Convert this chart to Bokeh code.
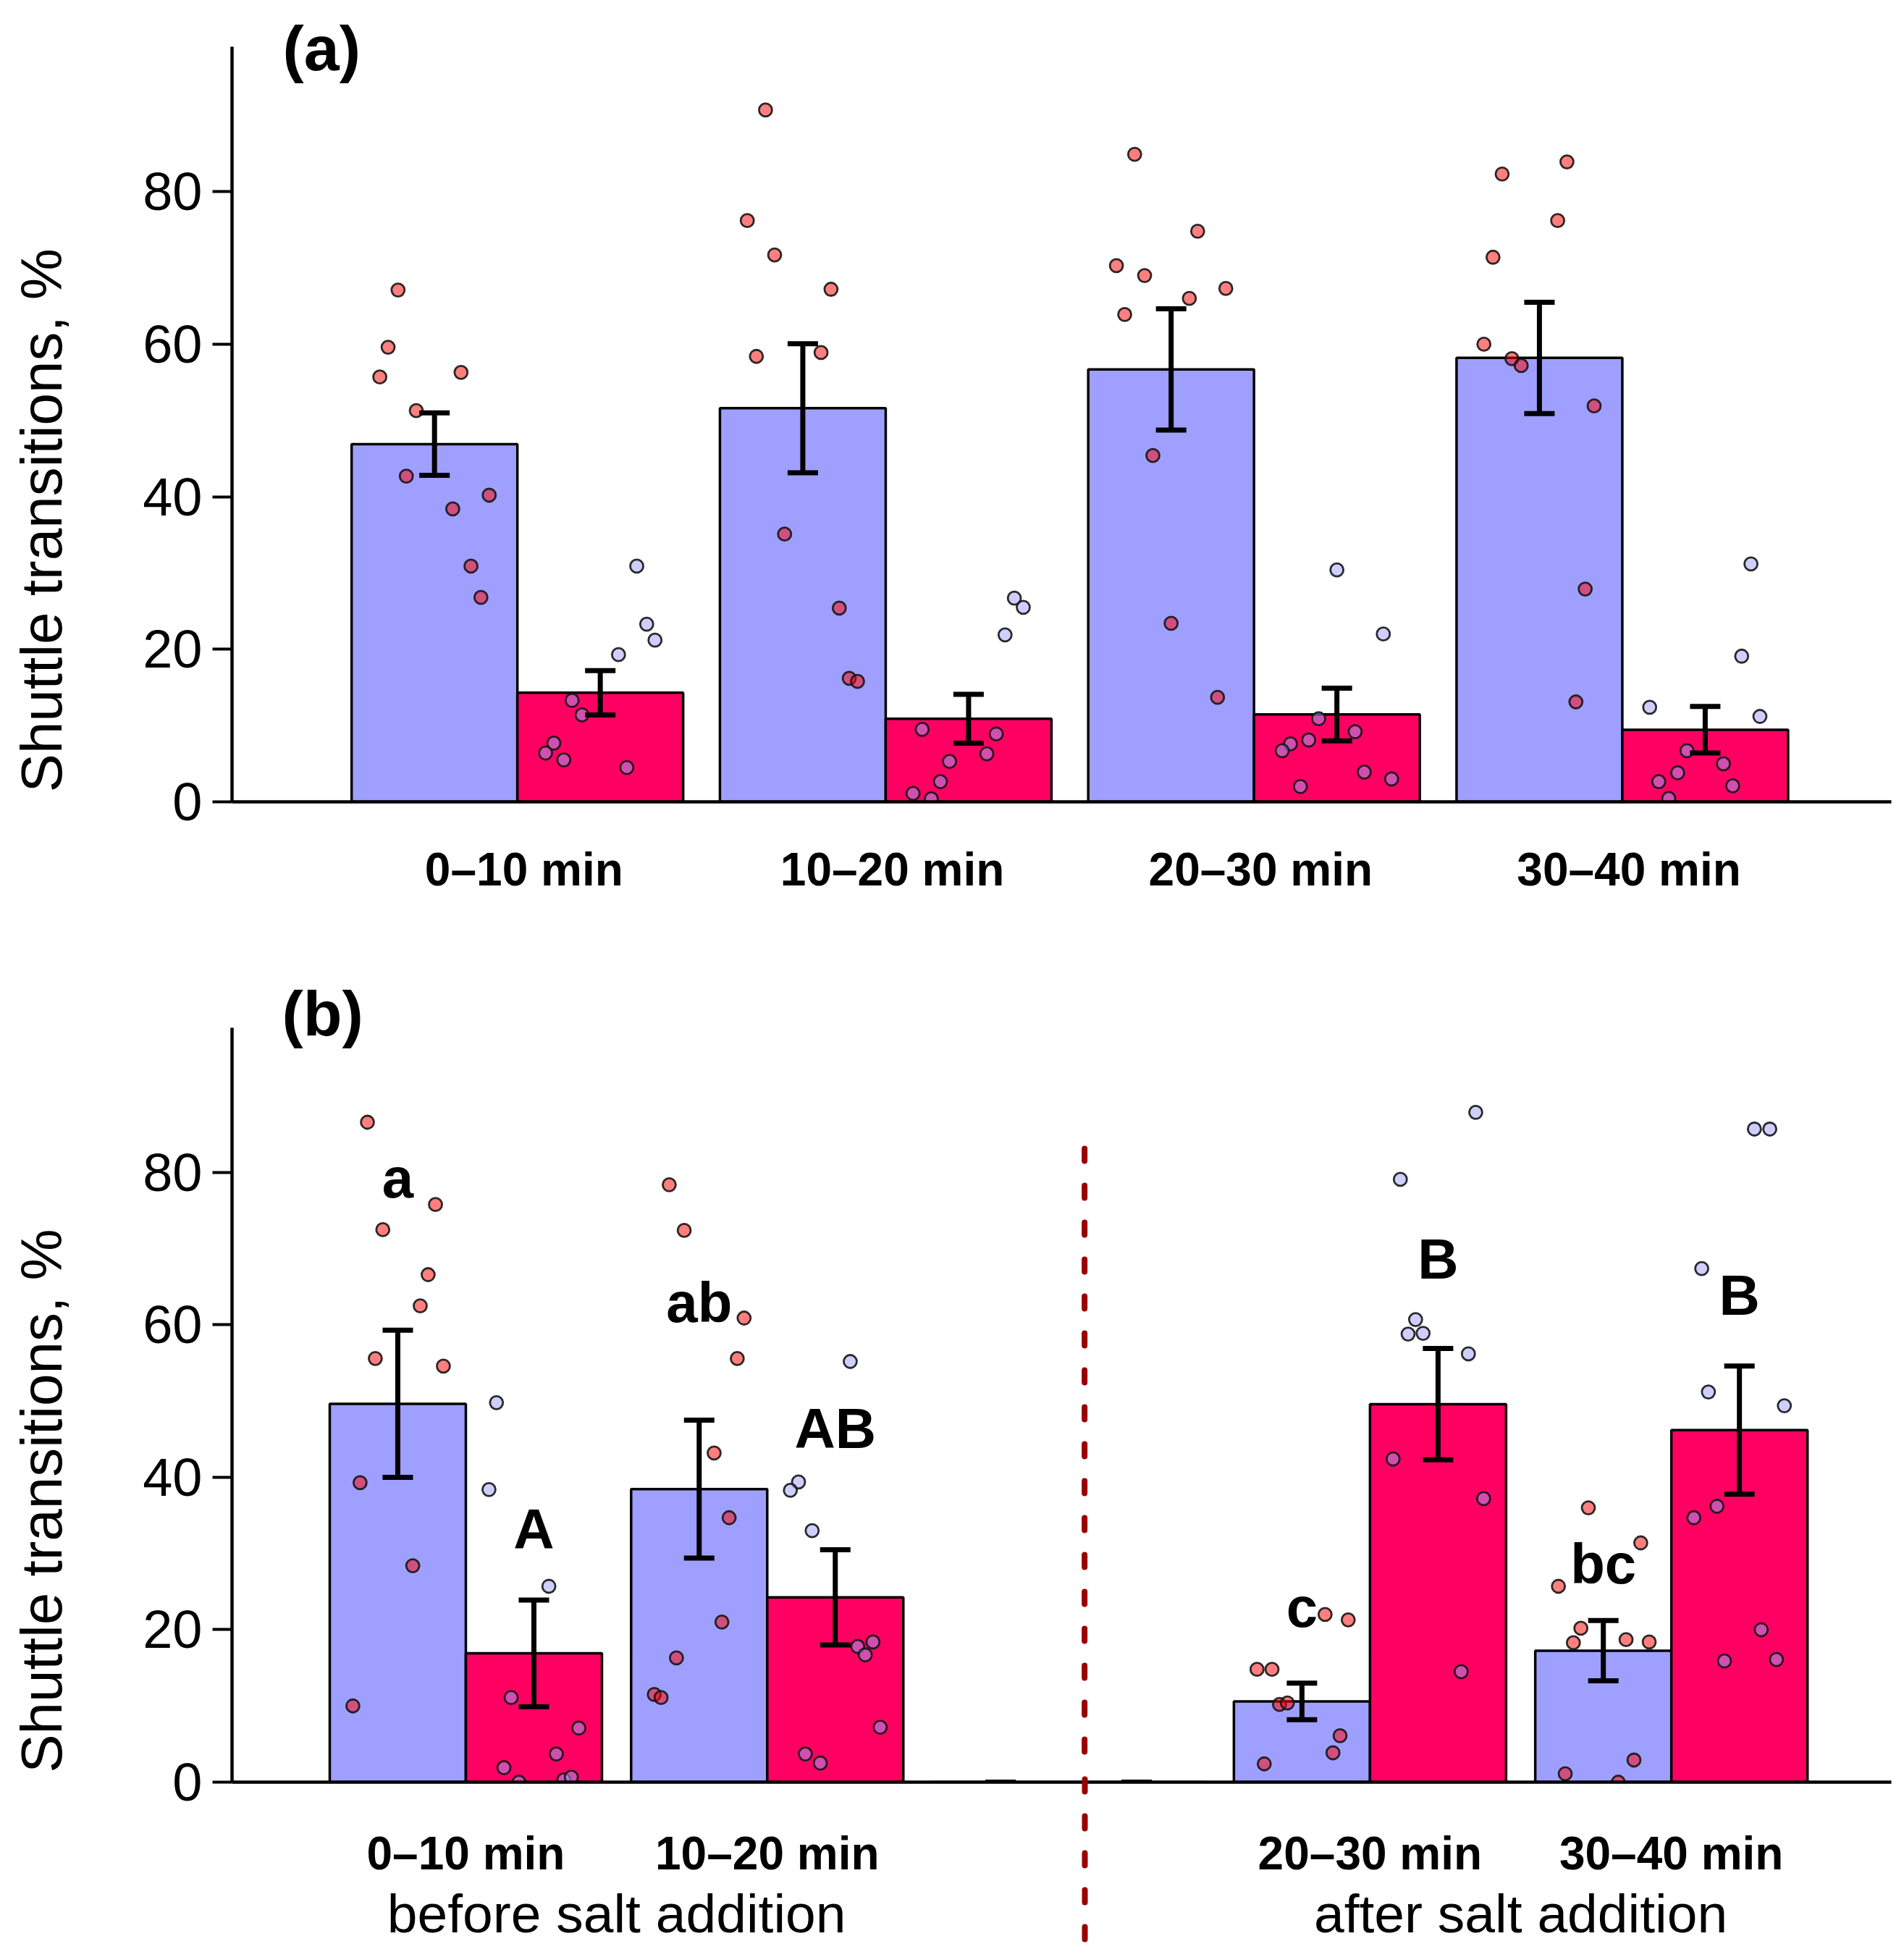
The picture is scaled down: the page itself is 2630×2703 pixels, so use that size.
import math
from bokeh.plotting import figure
from bokeh.models import (Range1d, FixedTicker, ColumnDataSource, Whisker, TeeHead,
                          Label, LinearAxis)
from bokeh.layouts import column
from bokeh.core.properties import value
from bokeh.embed import file_html
from bokeh.resources import INLINE

# ---------------- data: panel (a) ----------------
groups_a = ["0–10 min", "10–20 min", "20–30 min", "30–40 min"]
mean_blue_a = [46.9, 51.6, 56.7, 58.2]
se_blue_a = [4.1, 8.45, 7.95, 7.3]
mean_red_a = [14.3, 10.9, 11.45, 9.45]
se_red_a = [2.9, 3.2, 3.45, 3.05]

pts_blue_a = [
    [67.1, 59.6, 55.7, 56.3, 51.3, 42.7, 38.4, 40.2, 30.9, 26.8],
    [90.7, 76.2, 71.7, 67.2, 58.4, 58.9, 35.1, 25.4, 16.2, 15.8],
    [84.9, 74.8, 70.3, 69.0, 67.3, 66.0, 63.9, 45.4, 23.4, 13.7],
    [83.9, 82.3, 76.2, 71.4, 60.0, 58.1, 57.2, 51.9, 27.9, 13.1],
]
jit_blue_a = [
    [-0.22, -0.28, -0.33, 0.16, -0.11, -0.17, 0.11, 0.33, 0.22, 0.28],
    [-0.225, -0.335, -0.17, 0.17, -0.28, 0.11, -0.11, 0.22, 0.28, 0.33],
    [-0.22, 0.16, -0.33, -0.16, 0.33, 0.11, -0.28, -0.11, 0.0, 0.28],
    [0.166, -0.225, 0.11, -0.28, -0.335, -0.166, -0.11, 0.33, 0.276, 0.22],
]
pts_red_a = [
    [30.9, 23.3, 21.2, 19.3, 13.3, 11.4, 7.7, 6.4, 5.5, 4.5],
    [26.7, 25.5, 21.9, 8.9, 6.3, 5.3, 9.5, 2.65, 1.1, 0.4],
    [30.4, 22.0, 10.9, 9.2, 8.1, 7.6, 6.7, 3.9, 3.0, 2.0],
    [31.2, 19.1, 12.4, 11.2, 6.7, 5.0, 3.8, 2.65, 2.1, 0.45],
]
jit_red_a = [
    [0.22, 0.28, 0.33, 0.11, -0.17, -0.11, -0.28, -0.33, -0.22, 0.16],
    [0.276, 0.33, 0.22, 0.167, 0.11, -0.115, -0.28, -0.17, -0.335, -0.225],
    [0.0, 0.28, -0.11, 0.11, -0.17, -0.28, -0.33, 0.165, 0.33, -0.22],
    [0.276, 0.22, -0.335, 0.33, -0.11, 0.11, -0.166, -0.28, 0.166, -0.22],
]

# ---------------- data: panel (b) ----------------
groups_b = ["0–10 min", "10–20 min", "", "20–30 min", "30–40 min"]
mean_blue_b = [49.65, 38.45, 0.0, 10.6, 17.25]
se_blue_b = [9.65, 9.05, 0.0, 2.4, 3.95]
mean_red_b = [16.9, 24.25, 0.0, 49.6, 46.2]
se_red_b = [7.0, 6.25, 0.0, 7.3, 8.4]

pts_blue_b = [
    [86.6, 72.5, 75.8, 66.6, 62.5, 55.6, 54.6, 39.3, 28.4, 10.0],
    [78.4, 72.4, 60.9, 55.6, 43.2, 34.7, 21.0, 16.3, 11.5, 11.1],
    [],
    [22.0, 21.3, 14.8, 14.8, 10.2, 10.4, 6.1, 3.85, 2.4],
    [36.0, 31.4, 25.7, 20.2, 18.3, 18.7, 18.4, 2.9, 1.1, 0.0],
]
jit_blue_b = [
    [-0.223, -0.11, 0.277, 0.223, 0.165, -0.165, 0.335, -0.277, 0.11, -0.33],
    [-0.22, -0.11, 0.33, 0.28, 0.11, 0.22, 0.167, -0.167, -0.33, -0.28],
    [],
    [0.17, 0.34, -0.33, -0.22, -0.165, -0.107, 0.28, 0.228, -0.277],
    [-0.11, 0.275, -0.33, -0.165, -0.22, 0.167, 0.337, 0.225, -0.28, 0.11],
]
pts_red_b = [
    [49.8, 38.4, 25.7, 11.1, 7.1, 3.7, 1.9, 0.3, 0.66, 0.0],
    [55.2, 39.4, 38.3, 33.0, 18.4, 17.8, 16.7, 7.2, 3.7, 2.5],
    [],
    [87.9, 79.1, 60.7, 58.8, 58.9, 56.2, 42.4, 37.2, 14.5],
    [85.7, 85.7, 67.4, 51.2, 49.4, 36.2, 34.7, 20.0, 15.9, 16.1],
]
jit_red_b = [
    [-0.275, -0.33, 0.11, -0.167, 0.33, 0.165, -0.22, 0.22, 0.275, -0.11],
    [0.11, -0.27, -0.33, -0.17, 0.277, 0.165, 0.22, 0.33, -0.22, -0.11],
    [],
    [0.277, -0.277, -0.165, -0.22, -0.11, 0.223, -0.33, 0.335, 0.17],
    [0.11, 0.223, -0.277, -0.228, 0.33, -0.165, -0.335, 0.16, -0.11, 0.272],
]

# significance letters (panel b): text, bar group, series (0 blue / 1 red), height
letters_b = ["a", "A", "ab", "AB", "c", "B", "bc", "B"]
letter_group_b = [1, 1, 2, 2, 4, 4, 5, 5]
letter_series_b = [0, 1, 0, 1, 0, 1, 0, 1]
letter_y_b = [76.8, 30.7, 60.4, 43.9, 20.4, 66.1, 26.1, 61.4]

period_labels = ["before salt addition", "after salt addition"]
period_x = [1.5, 4.5]
salt_line_x = 3.053
salt_line_y = [3.99, 83.14]

y_ticks = [0, 20, 40, 60, 80]
y_axis_top = 99
y_label_text = "Shuttle transitions, %"
y_label_at = 36.9

# ---------------- style ----------------
BLUE = "#9F9FFF"
RED = "#FF0062"
PT_ON_BLUE = "#FF0000"
PT_ON_RED = "#9F9FFF"
SALT = "#990000"
SALT_DASH = "17 34"
FONT = "Liberation Sans"
TEXT_SHIFT = 2.5     # baseline correction for bold annotation text (data units)


def make_panel(labels, mb, sb, mr, sr, pb, jb, pr, jr, w, x0, x1, y1,
               height, b_bottom, standoff, label_shift, tag, tag_x, tag_y):
    n = len(labels)
    p = figure(width=2614, height=height, x_range=Range1d(x0, x1),
               y_range=Range1d(0, y1), output_backend="svg",
               toolbar_location=None, min_border_left=320, min_border_right=2,
               min_border_top=5, min_border_bottom=b_bottom)
    p.title.visible = False
    p.outline_line_color = None
    p.grid.visible = False
    p.background_fill_color = "white"

    xb = [i + 1 - w / 2 for i in range(n)]
    xr = [i + 1 + w / 2 for i in range(n)]

    p.vbar(x=xb, top=mb, bottom=0, width=w, fill_color=BLUE,
           line_color="black", line_width=3.5)
    p.vbar(x=xr, top=mr, bottom=0, width=w, fill_color=RED,
           line_color="black", line_width=3.5)

    px, py = [], []
    for i in range(n):
        for v, j in zip(pb[i], jb[i]):
            px.append(xb[i] + j * w)
            py.append(v)
    p.scatter(px, py, size=18, marker="circle", fill_color=PT_ON_BLUE,
              fill_alpha=0.5, line_color="#151515", line_width=2.8, line_alpha=0.9)
    qx, qy = [], []
    for i in range(n):
        for v, j in zip(pr[i], jr[i]):
            qx.append(xr[i] + j * w)
            qy.append(v)
    p.scatter(qx, qy, size=18, marker="circle", fill_color=PT_ON_RED,
              fill_alpha=0.5, line_color="#151515", line_width=2.8, line_alpha=0.9)

    src = ColumnDataSource(dict(
        x=xb + xr,
        upper=[m + s for m, s in zip(mb, sb)] + [m + s for m, s in zip(mr, sr)],
        lower=[m - s for m, s in zip(mb, sb)] + [m - s for m, s in zip(mr, sr)],
    ))
    wh = Whisker(source=src, base="x", upper="upper", lower="lower",
                 line_width=7, line_color="black", level="annotation",
                 upper_head=TeeHead(size=42, line_width=7, line_color="black"),
                 lower_head=TeeHead(size=42, line_width=7, line_color="black"))
    p.add_layout(wh)

    # y axis (line only up to y_axis_top)
    ya = p.yaxis[0]
    ya.ticker = FixedTicker(ticks=y_ticks)
    ya.bounds = (0, y_axis_top)
    ya.axis_line_width = 4.5
    ya.major_tick_line_width = 4
    ya.major_tick_out = 27
    ya.major_tick_in = 0
    ya.minor_tick_line_color = None
    ya.major_label_text_font = FONT
    ya.major_label_text_font_size = "74px"
    ya.major_label_text_color = "black"
    ya.major_label_standoff = 14

    # y title as a second, line-less axis with one labelled position
    yl = LinearAxis(ticker=FixedTicker(ticks=[y_label_at]),
                    major_label_overrides={y_label_at: y_label_text},
                    major_label_orientation="vertical",
                    axis_line_color=None, major_tick_line_color=None,
                    minor_tick_line_color=None, major_tick_out=0, major_tick_in=0,
                    major_label_text_font=FONT, major_label_text_font_size="80px",
                    major_label_text_color="black", major_label_standoff=92)
    p.add_layout(yl, "left")

    xa = p.xaxis[0]
    ticks = [i + 1 + label_shift for i in range(n) if labels[i]]
    tick_text = [labels[i] for i in range(n) if labels[i]]
    xa.ticker = FixedTicker(ticks=ticks)
    xa.minor_tick_line_color = None
    xa.major_label_overrides = dict(zip(ticks, tick_text))
    xa.axis_line_width = 4.5
    xa.major_tick_line_color = None
    xa.major_tick_out = 0
    xa.major_tick_in = 0
    xa.major_label_text_font = FONT
    xa.major_label_text_font_style = "bold"
    xa.major_label_text_font_size = "64px"
    xa.major_label_text_color = "black"
    xa.major_label_standoff = standoff

    p.add_layout(Label(x=tag_x, y=tag_y, text=tag, text_align="left",
                       text_baseline="alphabetic", text_font=FONT,
                       text_font_style="bold", text_font_size="88px",
                       text_color="black"))
    return p, xb, xr


W_A = 0.4501
W_B = 0.4516
pa, _, _ = make_panel(groups_a, mean_blue_a, se_blue_a, mean_red_a, se_red_a,
                      pts_blue_a, jit_blue_a, pts_red_a, jit_red_a, W_A,
                      0.2252, 4.7304, 104.6, 1300, 193, 57, 0.018,
                      "(a)", 0.3628, 98.8)

pb, xb_b, xr_b = make_panel(groups_b, mean_blue_b, se_blue_b, mean_red_b, se_red_b,
                            pts_blue_b, jit_blue_b, pts_red_b, jit_red_b, W_B,
                            0.2242, 5.7298, 109.83, 1395, 234, 62, 0.0,
                            "(b)", 0.390, 100.9)

lx = [(xb_b if s == 0 else xr_b)[g - 1] for g, s in zip(letter_group_b, letter_series_b)]
ly = [v + TEXT_SHIFT for v in letter_y_b]
pb.text(x=lx, y=ly, text=letters_b, text_font=value(FONT),
        text_font_style="bold", text_font_size=value("78px"),
        text_align="center", text_baseline="alphabetic", text_color="black")

# salt-addition divider inside the plot area
pb.segment(x0=[salt_line_x], y0=[salt_line_y[0]], x1=[salt_line_x], y1=[salt_line_y[1]],
           line_color=SALT, line_width=8, line_dash=SALT_DASH, line_cap="round")

# period captions as a second bottom axis; its dashed minor tick continues
# the divider across and below the x axis line
TICK_OUT = 80
pax = LinearAxis(ticker=FixedTicker(ticks=period_x, minor_ticks=[salt_line_x]),
                 major_label_overrides={x: t for x, t in zip(period_x, period_labels)},
                 axis_line_color=None, major_tick_line_color=None,
                 major_tick_out=0, major_tick_in=0,
                 minor_tick_line_color=SALT, minor_tick_line_width=8,
                 minor_tick_line_dash=SALT_DASH, minor_tick_line_cap="round",
                 minor_tick_in=141, minor_tick_out=TICK_OUT,
                 major_label_text_font=FONT, major_label_text_font_size="75px",
                 major_label_text_color="black", major_label_standoff=2 - TICK_OUT)
pb.add_layout(pax, "below")

layout = column(pa, pb)
open("out.html", "w").write(file_html(layout, INLINE))
